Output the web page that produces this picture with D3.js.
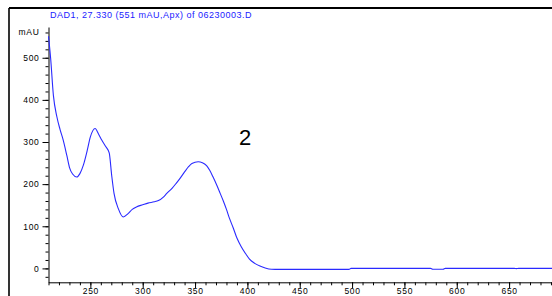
<!DOCTYPE html>
<html><head><meta charset="utf-8">
<script src="https://cdn.jsdelivr.net/npm/d3@7"></script>
<style>
html,body{margin:0;padding:0;background:#fff;}
svg{display:block;}
text{font-family:Arial,"Liberation Sans",sans-serif;}
</style></head>
<body>
<script>
const title = "DAD1, 27.330 (551 mAU,Apx) of 06230003.D";
const yUnit = "mAU";
const peakLabel = "2";
const wavelengths = [210,212,214.7,218,221,224,227.5,230,233,237,240,243.3,247,250,254.5,258,261,265,268,270.4,272.6,276.7,281.5,286,290,294,300,305,311,315,320,323,328,332,336,340,344,347,353,357,361,364,367,371,374,377,380,383,386.5,390,394,398,402,407,412,417,423,430,497,499,575,577,587,589,655,657,659,700];
const absorbance = [551,500,410,360,330,305,268,240,224,217,225,245,280,312,332,318,304,288,274,220,178,142,122,130,140,146,151,155,158,161,170,178,190,202,215,229,242,249,253,251,244,233,218,196,178,160,140,118,96,72,52,36,22,12,5.5,1,-2,-2.4,-2.4,0,0,-2,-2,0,0,-0.5,0,0];
const xTicks = [250,300,350,400,450,500,550,600,650,700];
const yTicks = [0,100,200,300,400,500];

const W = 552, H = 296;
const svg = d3.select("body").append("svg").attr("width", W).attr("height", H);

// frame
svg.append("line").attr("x1",9).attr("x2",W).attr("y1",8).attr("y2",8).attr("stroke","#000").attr("stroke-width",2);
svg.append("line").attr("x1",9).attr("x2",9).attr("y1",8).attr("y2",H).attr("stroke","#000").attr("stroke-width",1.6);

const x = d3.scaleLinear().domain([210,700]).range([48.5, 48.5+490*1.0468]);
const y = d3.scaleLinear().domain([-33,573]).range([282.3,27]);

// title
svg.append("text").attr("x",151).attr("y",17.5).attr("text-anchor","middle")
  .attr("font-size",9).attr("letter-spacing",0.5).attr("fill","#1a1aff").text(title);

const axStyle = g => {
  g.selectAll("path.domain").attr("stroke","#000");
  g.selectAll("line").attr("stroke","#000");
  g.selectAll("text").attr("font-size",8.5).attr("letter-spacing",0.7).attr("fill","#000")
   .attr("font-family","Arial, 'Liberation Sans', sans-serif");
};

// x axis minor
const xAxisG = svg.append("g").attr("transform",`translate(0,${y.range()[0]})`);
xAxisG.call(d3.axisBottom(x).tickValues(d3.range(210,701,10)).tickSize(3).tickFormat("").tickSizeOuter(0));
xAxisG.append("g").call(d3.axisBottom(x).tickValues(xTicks).tickSize(6).tickPadding(0).tickFormat(d3.format("d")))
  .call(g=>g.select("path.domain").remove());
axStyle(xAxisG);
xAxisG.selectAll("text").attr("dy","0.62em");

// y axis
const yAxisG = svg.append("g").attr("transform",`translate(${x.range()[0]},0)`);
yAxisG.call(d3.axisLeft(y).tickValues(d3.range(-20,561,20)).tickSize(3).tickFormat("").tickSizeOuter(0));
yAxisG.append("g").call(d3.axisLeft(y).tickValues(yTicks).tickSize(6).tickPadding(3).tickFormat(d3.format("d")))
  .call(g=>g.select("path.domain").remove());
axStyle(yAxisG);

svg.append("text").attr("x",39.5).attr("y",y(560)+3).attr("text-anchor","end")
  .attr("font-size",8.5).attr("letter-spacing",0.7).text(yUnit);

// curve
const data = wavelengths.map((w,i)=>[w,absorbance[i]]);
svg.append("path").datum(data)
  .attr("fill","none").attr("stroke","#2a2aff").attr("stroke-width",1.1)
  .attr("d", d3.line().x(d=>x(d[0])).y(d=>y(d[1])).curve(d3.curveMonotoneX));

svg.append("text").attr("x",245).attr("y",144.5).attr("text-anchor","middle")
  .attr("font-size",22).attr("fill","#000").text(peakLabel);
</script>
</body></html>
